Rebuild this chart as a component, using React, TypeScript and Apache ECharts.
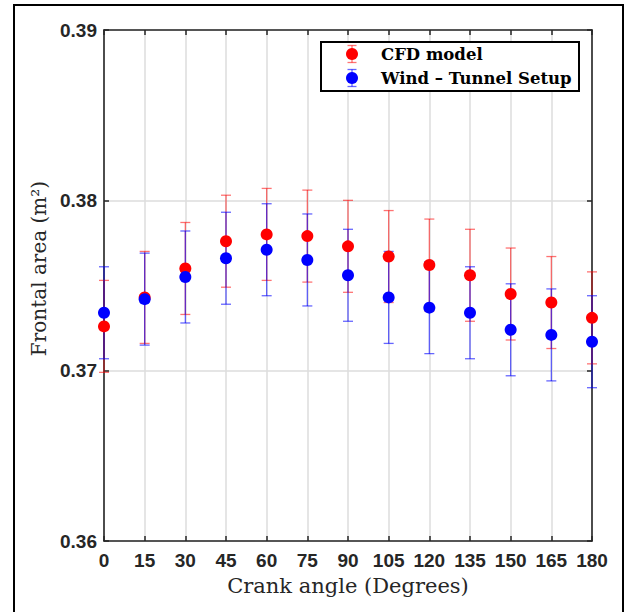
import React, { useEffect, useRef } from "react";
import * as echarts from "echarts";

const angles = [0, 15, 30, 45, 60, 75, 90, 105, 120, 135, 150, 165, 180];
const cfdArea = [0.3726, 0.3743, 0.376, 0.3776, 0.378, 0.3779, 0.3773, 0.3767, 0.3762, 0.3756, 0.3745, 0.374, 0.3731];
const cfdError = [0.0027, 0.0027, 0.0027, 0.0027, 0.0027, 0.0027, 0.0027, 0.0027, 0.0027, 0.0027, 0.0027, 0.0027, 0.0027];
const windArea = [0.3734, 0.3742, 0.3755, 0.3766, 0.3771, 0.3765, 0.3756, 0.3743, 0.3737, 0.3734, 0.3724, 0.3721, 0.3717];
const windError = [0.0027, 0.0027, 0.0027, 0.0027, 0.0027, 0.0027, 0.0027, 0.0027, 0.0027, 0.0027, 0.0027, 0.0027, 0.0027];
const seriesNames = ["CFD model", "Wind – Tunnel Setup"];

const RED = "#ff0000";
const BLUE = "#0000ff";
const RED_BAR = "rgba(255,0,0,0.55)";
const BLUE_BAR = "rgba(0,0,255,0.6)";
const AX = "#262626";

function errorRender(color: string) {
  return (params: any, api: any) => {
    const x = api.value(0);
    const y = api.value(1);
    const e = api.value(2);
    const top = api.coord([x, y + e]);
    const bot = api.coord([x, y - e]);
    const half = 5;
    const style = { stroke: color, lineWidth: 1.3, fill: null };
    return {
      type: "group",
      children: [
        { type: "line", shape: { x1: top[0], y1: top[1], x2: bot[0], y2: bot[1] }, style },
        { type: "line", shape: { x1: top[0] - half, y1: top[1], x2: top[0] + half, y2: top[1] }, style },
        { type: "line", shape: { x1: bot[0] - half, y1: bot[1], x2: bot[0] + half, y2: bot[1] }, style },
      ],
    };
  };
}

function legendItem(cx: number, cy: number, barColor: string, dotColor: string, label: string) {
  const h = 8.5;
  const half = 4.5;
  const style = { stroke: barColor, lineWidth: 1.3 };
  return [
    { type: "line", z: 101, shape: { x1: cx, y1: cy - h, x2: cx, y2: cy + h }, style },
    { type: "line", z: 101, shape: { x1: cx - half, y1: cy - h, x2: cx + half, y2: cy - h }, style },
    { type: "line", z: 101, shape: { x1: cx - half, y1: cy + h, x2: cx + half, y2: cy + h }, style },
    { type: "circle", z: 102, shape: { cx, cy, r: 6 }, style: { fill: dotColor } },
    {
      type: "text",
      z: 102,
      x: cx + 29,
      y: cy,
      style: {
        text: label,
        fill: "#000",
        font: "bold 16.5px 'DejaVu Serif'",
        verticalAlign: "middle",
        align: "left",
      },
    },
  ];
}

export default function App() {
  const ref = useRef<HTMLDivElement>(null);
  useEffect(() => {
    if (!ref.current) return;
    const chart = echarts.init(ref.current, undefined, { renderer: "svg" });
    const labelFont = { fontFamily: "Liberation Sans", fontWeight: "bold" as const, fontSize: 19, color: AX };
    const nameFont = { fontFamily: "DejaVu Serif", fontWeight: "normal" as const, color: AX };
    const axisLine = { onZero: false, lineStyle: { color: AX, width: 1.6 } };
    const axisTick = { inside: true, length: 5, lineStyle: { color: AX, width: 1.5 } };
    const splitLine = { show: true, lineStyle: { color: "#dcdcdc", width: 1.5 } };
    const cfdData = angles.map((a, i) => [a, cfdArea[i], cfdError[i]]);
    const windData = angles.map((a, i) => [a, windArea[i], windError[i]]);
    chart.setOption({
      animation: false,
      backgroundColor: "#ffffff",
      grid: { left: 104, right: 35, top: 30, bottom: 71 },
      xAxis: [
        {
          type: "value",
          min: 0,
          max: 180,
          interval: 15,
          axisLine,
          axisTick,
          splitLine,
          axisLabel: { ...labelFont, margin: 10 },
          name: "Crank angle (Degrees)",
          nameLocation: "middle",
          nameGap: 34,
          nameTextStyle: { ...nameFont, fontSize: 21 },
        },
        {
          type: "value",
          position: "top",
          min: 0,
          max: 180,
          interval: 15,
          axisLine,
          axisTick,
          splitLine: { show: false },
          axisLabel: { show: false },
        },
      ],
      yAxis: [
        {
          type: "value",
          min: 0.36,
          max: 0.39,
          interval: 0.01,
          axisLine,
          axisTick,
          splitLine,
          axisLabel: { ...labelFont, margin: 7, formatter: (v: number) => v.toFixed(2) },
          name: "Frontal area (m²)",
          nameLocation: "middle",
          nameGap: 52,
          nameTextStyle: { ...nameFont, fontSize: 20, padding: [0, 0, 0, 34] },
        },
        {
          type: "value",
          position: "right",
          min: 0.36,
          max: 0.39,
          interval: 0.01,
          axisLine,
          axisTick,
          splitLine: { show: false },
          axisLabel: { show: false },
        },
      ],
      graphic: [
        {
          type: "rect",
          z: 100,
          silent: true,
          shape: { x: 14, y: 5, width: 609, height: 620 },
          style: { fill: null, stroke: "#000", lineWidth: 2 },
        },
        {
          type: "rect",
          z: 100,
          silent: true,
          shape: { x: 321, y: 42, width: 258, height: 49 },
          style: { fill: "#fff", stroke: "#000", lineWidth: 2 },
        },
        ...legendItem(352, 54, RED_BAR, RED, seriesNames[0]),
        ...legendItem(352, 78, BLUE_BAR, BLUE, seriesNames[1]),
      ],
      series: [
        {
          type: "custom",
          name: "CFD error",
          renderItem: errorRender(RED_BAR),
          data: cfdData,
          encode: { x: 0, y: 1 },
          z: 2,
        },
        {
          type: "scatter",
          name: seriesNames[0],
          data: cfdData.map((d) => [d[0], d[1]]),
          symbolSize: 12,
          itemStyle: { color: RED, opacity: 1 },
          z: 2,
        },
        {
          type: "custom",
          name: "Wind error",
          renderItem: errorRender(BLUE_BAR),
          data: windData,
          encode: { x: 0, y: 1 },
          z: 2,
        },
        {
          type: "scatter",
          name: seriesNames[1],
          data: windData.map((d) => [d[0], d[1]]),
          symbolSize: 12,
          itemStyle: { color: BLUE, opacity: 1 },
          z: 2,
        },
      ],
    });
    return () => chart.dispose();
  }, []);
  return (
    <div
      ref={ref}
      style={{ position: "fixed", left: 0, top: 0, width: 627, height: 612, background: "#fff" }}
    />
  );
}
